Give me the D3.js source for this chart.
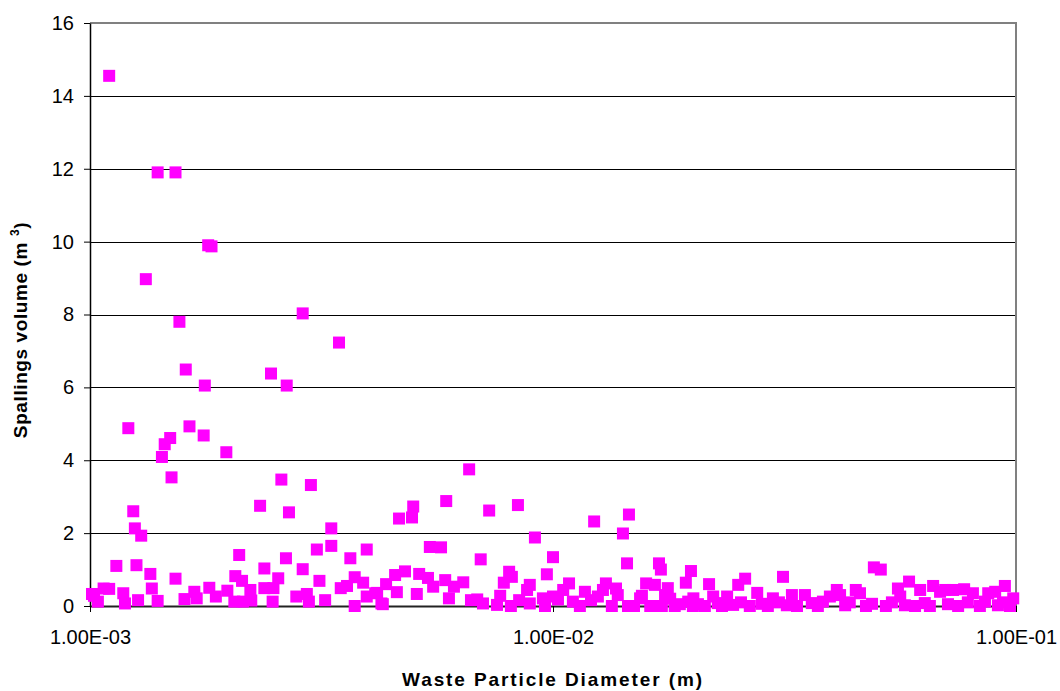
<!DOCTYPE html>
<html>
<head>
<meta charset="utf-8">
<script src="https://cdn.jsdelivr.net/npm/d3@7"></script>
<style>
  html, body { margin: 0; padding: 0; background: #fff; }
  svg { display: block; }
  .tick text { font-family: "Liberation Sans", Arial, sans-serif; font-size: 20px; fill: #000; }
  .axis-title { font-family: "Liberation Sans", Arial, sans-serif; font-weight: bold; font-size: 19px; fill: #000; }
</style>
</head>
<body>
<svg id="chart" width="1060" height="691"></svg>
<script>
// Waste particle diameter (m) for each sampled realisation
const diameter = [
  0.00101, 0.00102, 0.00104, 0.00107, 0.00110, 0.00110, 0.00114, 0.00118, 0.00119, 0.00121,
  0.00124, 0.00125, 0.00126, 0.00127, 0.00129, 0.00132, 0.00135, 0.00136, 0.00140, 0.00140,
  0.00143, 0.00145, 0.00149, 0.00150, 0.00153, 0.00153, 0.00156, 0.00160, 0.00161, 0.00164,
  0.00168, 0.00170, 0.00176, 0.00177, 0.00180, 0.00181, 0.00183, 0.00187, 0.00197, 0.00198,
  0.00205, 0.00206, 0.00210, 0.00213, 0.00214, 0.00222, 0.00223, 0.00233, 0.00238, 0.00238,
  0.00246, 0.00248, 0.00249, 0.00255, 0.00259, 0.00265, 0.00266, 0.00269, 0.00279, 0.00288,
  0.00288, 0.00294, 0.00297, 0.00300, 0.00309, 0.00313, 0.00322, 0.00332, 0.00332, 0.00345,
  0.00348, 0.00359, 0.00365, 0.00373, 0.00373, 0.00389, 0.00396, 0.00396, 0.00413, 0.00417,
  0.00426, 0.00429, 0.00436, 0.00456, 0.00460, 0.00465, 0.00479, 0.00496, 0.00499, 0.00508,
  0.00514, 0.00537, 0.00542, 0.00551, 0.00573, 0.00585, 0.00588, 0.00596, 0.00611, 0.00640,
  0.00659, 0.00665, 0.00686, 0.00698, 0.00706, 0.00728, 0.00757, 0.00769, 0.00783, 0.00804,
  0.00811, 0.00815, 0.00840, 0.00845, 0.00879, 0.00891, 0.00891, 0.00914, 0.00951, 0.00961,
  0.00970, 0.01000, 0.01000,
  0.01025, 0.01052, 0.01083, 0.01104, 0.01143, 0.01172, 0.01208, 0.01227, 0.01250, 0.01282,
  0.01301, 0.01340, 0.01368, 0.01380, 0.01416, 0.01445, 0.01452, 0.01459, 0.01496, 0.01542,
  0.01556, 0.01589, 0.01622, 0.01660, 0.01694, 0.01710, 0.01718, 0.01746, 0.01770, 0.01791,
  0.01832, 0.01879, 0.01936, 0.01959, 0.01986, 0.02005, 0.02010, 0.02056, 0.02128, 0.02173,
  0.02218, 0.02270, 0.02317, 0.02377, 0.02449, 0.02512, 0.02547, 0.02600, 0.02661, 0.02761,
  0.02825, 0.02911, 0.02985, 0.03076, 0.03139, 0.03199, 0.03281, 0.03365, 0.03500, 0.03622,
  0.03733, 0.03828, 0.03963, 0.04102, 0.04169, 0.04276, 0.04375, 0.04508, 0.04603, 0.04742,
  0.04887, 0.04932, 0.05105, 0.05236, 0.05395, 0.05559, 0.05623, 0.05754, 0.05875, 0.06053,
  0.06209, 0.06353, 0.06516, 0.06622, 0.06855, 0.07031, 0.07129, 0.07311, 0.07499, 0.07727,
  0.07870, 0.08072, 0.08356, 0.08570, 0.08710, 0.09016, 0.09141, 0.09376, 0.09462, 0.09705,
  0.09863
];

// Spallings volume (m^3) released for the same realisations
const volume = [
  0.33, 0.28, 0.12, 0.48, 0.47, 14.55, 1.10, 0.35, 0.07, 4.88,
  2.60, 2.13, 1.12, 0.16, 1.93, 8.97, 0.88, 0.48, 11.90, 0.14,
  4.09, 4.44, 4.61, 3.53, 11.90, 0.75, 7.80, 0.19, 6.49, 4.93,
  0.39, 0.21, 4.68, 6.05, 9.90, 0.50, 9.87, 0.26, 4.22, 0.42,
  0.12, 0.82, 1.40, 0.69, 0.12, 0.44, 0.15, 2.75, 1.03, 0.49,
  6.38, 0.12, 0.49, 0.76, 3.47, 1.31, 6.05, 2.57, 0.26, 8.03,
  1.01, 0.33, 0.12, 3.32, 1.55, 0.69, 0.16, 2.13, 1.65, 7.23,
  0.49, 0.55, 1.31, 0.79, 0.00, 0.64, 1.55, 0.26, 0.35, 0.36,
  0.07, 0.05, 0.60, 0.85, 0.38, 2.40, 0.95, 2.43, 2.73, 0.33,
  0.88, 0.77, 1.62, 0.53, 1.61, 0.71, 2.88, 0.21, 0.53, 0.65,
  3.75, 0.16, 0.18, 1.28, 0.07, 2.62, 0.03, 0.28, 0.64, 0.94,
  0.00, 0.80, 2.77, 0.16, 0.44, 0.58, 0.07, 1.88, 0.21, 0.00,
  0.87, 1.34, 0.26,
  0.18, 0.44, 0.62, 0.12, 0.00, 0.39, 0.16, 2.32, 0.26, 0.44,
  0.62, 0.00, 0.48, 0.30, 1.99, 1.17, 0.00, 2.51, 0.00, 0.21,
  0.28, 0.62, 0.00, 0.58, 1.17, 1.00, 0.00, 0.30, 0.49, 0.20,
  0.00, 0.05, 0.64, 0.12, 0.96, 0.00, 0.21, 0.05, 0.00, 0.60,
  0.26, 0.08, 0.00, 0.26, 0.03, 0.58, 0.10, 0.75, 0.00, 0.36,
  0.06, 0.00, 0.21, 0.10, 0.80, 0.02, 0.30, 0.00, 0.30, 0.08,
  0.00, 0.12, 0.26, 0.44, 0.30, 0.02, 0.10, 0.44, 0.35, 0.00,
  0.06, 1.06, 1.00, 0.00, 0.10, 0.48, 0.26, 0.02, 0.67, 0.00,
  0.44, 0.08, 0.00, 0.55, 0.39, 0.44, 0.05, 0.44, 0.00, 0.46,
  0.10, 0.35, 0.00, 0.12, 0.35, 0.39, 0.02, 0.10, 0.55, 0.00,
  0.21
];

// Axis ticks
const xTicks = [0.001, 0.01, 0.1];
const xTickLabels = ["1.00E-03", "1.00E-02", "1.00E-01"];
const yTicks = [0, 2, 4, 6, 8, 10, 12, 14, 16];
const gridValues = [2, 4, 6, 8, 10, 12, 14];

const xTitle = "Waste Particle Diameter (m)";
const yTitle = "Spallings volume (m ";
const yTitleSup = "3";

const plot = { left: 90, right: 1016, top: 23, bottom: 606 };
const markerSize = 12;
const markerColor = "#FF00FF";

const svg = d3.select("#chart");

const x = d3.scaleLog().domain([xTicks[0], xTicks[xTicks.length - 1]]).range([plot.left, plot.right]);
const y = d3.scaleLinear().domain([0, 16]).range([plot.bottom, plot.top]);

// Horizontal gridlines
svg.append("g")
  .selectAll("line")
  .data(gridValues)
  .join("line")
  .attr("x1", plot.left).attr("x2", plot.right)
  .attr("y1", d => Math.round(y(d)) + 0.5).attr("y2", d => Math.round(y(d)) + 0.5)
  .attr("stroke", "#000").attr("stroke-width", 1);

// Plot-area frame (top and right edges)
svg.append("path")
  .attr("d", `M${plot.left},${plot.top}H${plot.right}V${plot.bottom}`)
  .attr("fill", "none").attr("stroke", "#808080").attr("stroke-width", 2);

// Y axis
const yAxis = svg.append("g")
  .attr("transform", `translate(${plot.left},0)`)
  .call(d3.axisLeft(y).tickValues(yTicks).tickFormat(d3.format("d")).tickSize(6).tickPadding(10).tickSizeOuter(0));
yAxis.select(".domain").attr("stroke", "#000").attr("stroke-width", 1.5);
yAxis.selectAll(".tick line").attr("stroke", "#000");
yAxis.selectAll(".tick text").attr("font-family", null).attr("font-size", null);

// X axis
const xAxis = svg.append("g")
  .attr("transform", `translate(0,${plot.bottom})`)
  .call(d3.axisBottom(x).tickValues(xTicks).tickFormat((d, i) => xTickLabels[i]).tickSize(6).tickPadding(18).tickSizeOuter(0));
xAxis.select(".domain").attr("stroke", "#222").attr("stroke-width", 2);
xAxis.selectAll(".tick line").attr("stroke", "#000");
xAxis.selectAll(".tick text").attr("font-family", null).attr("font-size", null);

// Markers
const points = diameter.map((d, i) => ({ d, v: volume[i] }));
svg.append("g")
  .selectAll("rect")
  .data(points)
  .join("rect")
  .attr("x", p => x(p.d) - markerSize / 2)
  .attr("y", p => y(p.v) - markerSize / 2)
  .attr("width", markerSize)
  .attr("height", markerSize)
  .attr("fill", markerColor);

// Axis titles
svg.append("text")
  .attr("class", "axis-title")
  .attr("x", (plot.left + plot.right) / 2)
  .attr("y", 686)
  .attr("text-anchor", "middle")
  .style("letter-spacing", "1.9px")
  .text(xTitle);

const yt = svg.append("text")
  .attr("class", "axis-title")
  .attr("transform", "translate(27,330) rotate(-90)")
  .attr("text-anchor", "middle")
  .style("letter-spacing", "0.6px");
yt.append("tspan").text(yTitle);
yt.append("tspan").attr("font-size", 12).attr("dy", -8).text(yTitleSup);
yt.append("tspan").attr("dy", 8).text(")");
</script>
</body>
</html>
